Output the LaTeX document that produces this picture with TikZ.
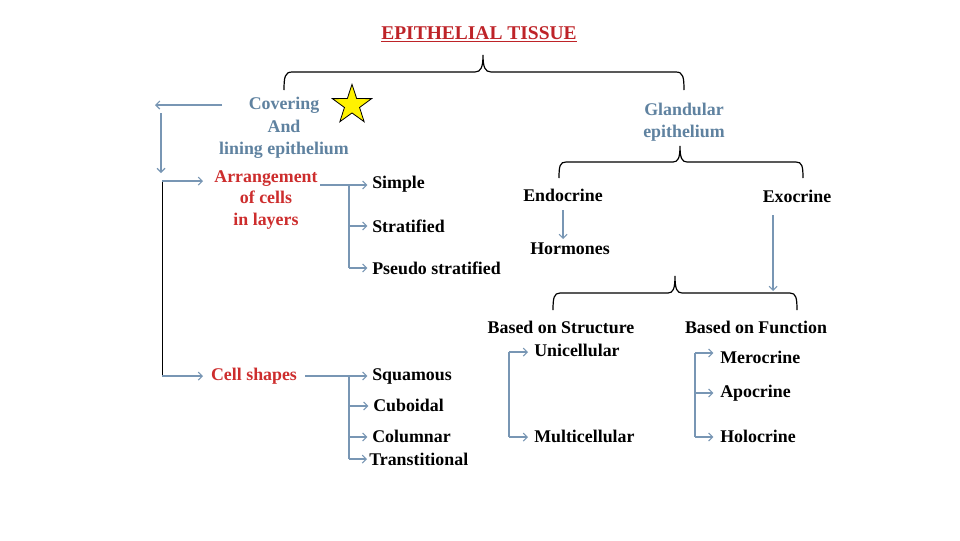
\documentclass[tikz,border=0pt]{standalone}
\usepackage{fontspec}
\setmainfont{Liberation Serif}
\usetikzlibrary{arrows.meta,shapes.geometric}
\definecolor{tred}{RGB}{190,35,40}
\definecolor{lred}{RGB}{205,45,45}
\definecolor{tblue}{RGB}{95,130,160}
\definecolor{ablue}{RGB}{120,150,180}
\tikzset{
  txt/.style={inner sep=0pt, font=\fontsize{13.4}{16.5}\selectfont\bfseries, text=black},
  blu/.style={txt, text=tblue, align=center, font=\fontsize{13.4}{16.8}\selectfont\bfseries},
  redt/.style={txt, text=lred, align=center, font=\fontsize{13.4}{16}\selectfont\bfseries},
  arr/.style={draw=ablue, line width=0.8pt, -{Straight Barb[length=3pt,width=6pt]}},
  bline/.style={draw=ablue, line width=0.8pt},
  brace/.style={draw=black, line width=0.9pt},
}
\begin{document}
\begin{tikzpicture}[x=0.75pt,y=-0.75pt]
\useasboundingbox[fill=white] (0,0) rectangle (960,540);
% title
\node[txt, text=tred, font=\fontsize{14.6}{17}\selectfont\bfseries] (title) at (479,34) {\underline{EPITHELIAL TISSUE}};
% top brace
\draw[brace] (284,90) .. controls (284,77) and (285,72) .. (292,72) -- (475,72) .. controls (481,72) and (483,67) .. (483,55)
  .. controls (483,67) and (485,72) .. (491,72) -- (676,72) .. controls (683,72) and (684,77) .. (684,90);
% level 1
\node[blu] (cov) at (284,128) {Covering\\And\\lining epithelium};
\node[star, star points=5, star point ratio=2.6, draw=black, fill=yellow, line width=0.6pt, minimum size=31pt, inner sep=0pt] (star) at (352,105) {};
\node[blu] (gland) at (684,122) {Glandular\\epithelium};
% left side
\coordinate (c0) at (222,105);
\coordinate (c1) at (155,105);
\coordinate (c2) at (161,113);
\coordinate (c3) at (161,173);
\coordinate (c4) at (162,181);
\coordinate (c5) at (162,376);
\draw[arr] (c0) -- (c1);
\draw[arr] (c2) -- (c3);
\draw[draw=black, line width=0.7pt] (c4) -- (c5);
\node[redt] (arrange) at (266,200) {Arrangement\\of cells\\in layers};
\node[redt] (cells) at (254,376) {Cell shapes};
\coordinate (a1) at (203,181);
\coordinate (a2) at (203,376);
\draw[arr] (c4) -- (a1);
\draw[arr] (c5) -- (a2);
% arrangement branch
\node[txt, anchor=west] (simple) at (372,184) {Simple};
\node[txt, anchor=west] (strat) at (372,226) {Stratified};
\node[txt, anchor=west] (pseudo) at (372,268) {Pseudo stratified};
\coordinate (s0) at (320,185);
\coordinate (s1) at (349,185);
\coordinate (s2) at (349,226);
\coordinate (s3) at (349,268);
\draw[arr] (s0) -- ([xshift=-3.5pt]simple.west |- s1);
\draw[bline] (s1) -- (s3);
\draw[arr] (s2) -- ([xshift=-3.5pt]strat.west |- s2);
\draw[arr] (s3) -- ([xshift=-3.5pt]pseudo.west |- s3);
% cell shapes branch
\node[txt, anchor=west] (squam) at (372,376) {Squamous};
\node[txt, anchor=west] (cubo) at (373,405) {Cuboidal};
\node[txt, anchor=west] (colum) at (372,436) {Columnar};
\node[txt, anchor=west] (trans) at (369,459) {Transtitional};
\coordinate (q0) at (305,376);
\coordinate (q1) at (349,376);
\coordinate (q2) at (349,406);
\coordinate (q3) at (349,437);
\coordinate (q4) at (349,459);
\draw[arr] (q0) -- ([xshift=-3.5pt]squam.west |- q1);
\draw[bline] (q1) -- (q4);
\draw[arr] (q2) -- ([xshift=-3.5pt]cubo.west |- q2);
\draw[arr] (q3) -- ([xshift=-3.5pt]colum.west |- q3);
\draw[arr] (q4) -- ([xshift=-1.5pt]trans.west |- q4);
% glandular brace
\draw[brace] (559,178) .. controls (559,166) and (560,162) .. (566,162) -- (673,162) .. controls (678,162) and (680,158) .. (680,146)
  .. controls (680,158) and (682,162) .. (687,162) -- (796,162) .. controls (802,162) and (803,166) .. (803,178);
\node[txt] (endo) at (563,195) {Endocrine};
\node[txt] (exo) at (797,196) {Exocrine};
\node[txt] (horm) at (570,249) {Hormones};
\coordinate (h0) at (563,210);
\coordinate (h1) at (563,239);
\draw[arr] (h0) -- (h1);
\coordinate (e0) at (773,215);
\coordinate (e1) at (773,291);
\draw[arr] (e0) -- (e1);
% lower brace
\draw[brace] (553,310) .. controls (553,298) and (554,293) .. (560,293) -- (668,293) .. controls (673,293) and (675,289) .. (675,276)
  .. controls (675,289) and (677,293) .. (682,293) -- (790,293) .. controls (796,293) and (797,298) .. (797,310);
\node[txt] (struct) at (561,327) {Based on Structure};
\node[txt] (func) at (756,327) {Based on Function};
% structure branch
\node[txt, anchor=west] (uni) at (534,350) {Unicellular};
\node[txt, anchor=west] (multi) at (534,436) {Multicellular};
\coordinate (u0) at (509,352);
\coordinate (u1) at (509,437);
\draw[bline] (u0) -- (u1);
\draw[arr] (u0) -- ([xshift=-4.5pt]uni.west |- u0);
\draw[arr] (u1) -- ([xshift=-4.5pt]multi.west |- u1);
% function branch
\node[txt, anchor=west] (mero) at (720,357) {Merocrine};
\node[txt, anchor=west] (apo) at (720,393) {Apocrine};
\node[txt, anchor=west] (holo) at (720,436) {Holocrine};
\coordinate (f0) at (695,353);
\coordinate (f1) at (695,393);
\coordinate (f2) at (695,437);
\draw[bline] (f0) -- (f2);
\draw[arr] (f0) -- ([xshift=-5pt]mero.west |- f0);
\draw[arr] (f1) -- ([xshift=-5pt]apo.west |- f1);
\draw[arr] (f2) -- ([xshift=-5pt]holo.west |- f2);
\end{tikzpicture}
\end{document}
